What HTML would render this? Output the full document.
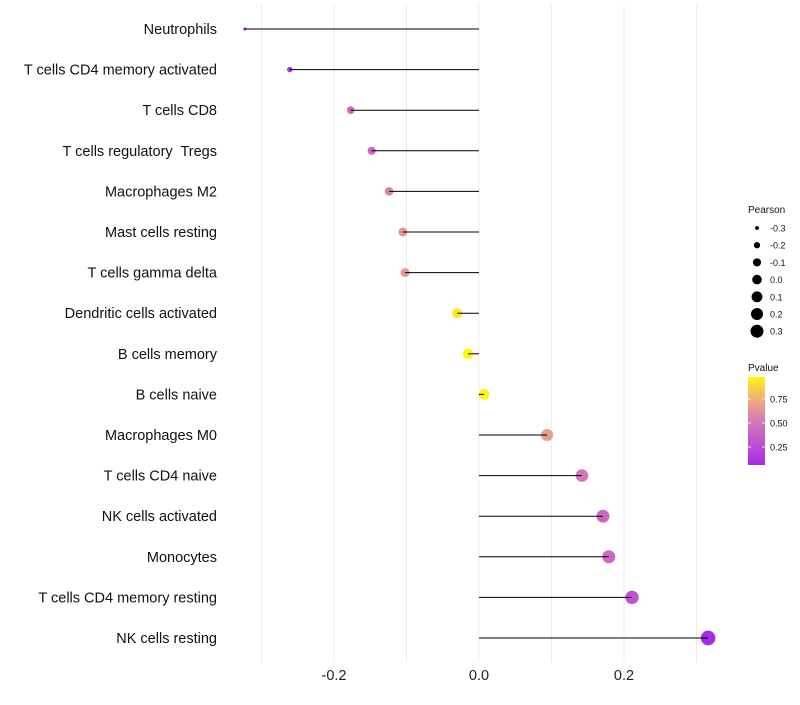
<!DOCTYPE html>
<html><head><meta charset="utf-8"><style>
body{margin:0;background:#fff;font-family:"Liberation Sans",sans-serif}
text{white-space:pre}
</style></head><body>
<svg id="c" width="800" height="700" xmlns="http://www.w3.org/2000/svg" xml:space="preserve"></svg>
<script>
const categories=["Neutrophils","T cells CD4 memory activated","T cells CD8","T cells regulatory  Tregs","Macrophages M2","Mast cells resting","T cells gamma delta","Dendritic cells activated","B cells memory","B cells naive","Macrophages M0","T cells CD4 naive","NK cells activated","Monocytes","T cells CD4 memory resting","NK cells resting"];
const pearson=[-0.323,-0.261,-0.177,-0.148,-0.124,-0.105,-0.102,-0.030,-0.015,0.007,0.094,0.142,0.171,0.179,0.211,0.316];
const pvalue=[0.08,0.12,0.4,0.42,0.55,0.65,0.66,0.93,0.98,0.98,0.68,0.5,0.42,0.42,0.3,0.06];
const xTicks=[-0.2,0.0,0.2];
const xMinor=[-0.3,-0.1,0.1,0.3];
const sizeLegend=[-0.3,-0.2,-0.1,0.0,0.1,0.2,0.3];
const pTicks=[0.25,0.5,0.75];
const NS="http://www.w3.org/2000/svg",svg=document.getElementById('c');
const X=v=>479+v*725, Y=i=>29+i*40.6, R=v=>Math.sqrt(2.5+80*(v+0.323));
const PY=p=>447-(p-0.25)*96;
const stops=[[0,[160,32,240]],[0.5,[212,118,185]],[0.75,[240,172,125]],[1,[255,255,0]]];
function col(p){for(let k=0;k<stops.length-1;k++){const [p0,a]=stops[k],[p1,b]=stops[k+1];
 if(p<=p1||k==stops.length-2){const t=Math.max(0,Math.min(1,(p-p0)/(p1-p0)));
 return `rgb(${a.map((x,j)=>Math.round(x+(b[j]-x)*t)).join(',')})`}}}
function el(n,a,txt){const e=document.createElementNS(NS,n);for(const k in a)e.setAttribute(k,a[k]);if(txt!==undefined)e.textContent=txt;svg.appendChild(e);return e}
xMinor.concat(xTicks).forEach(v=>{const g=el('line',{x1:X(v),x2:X(v),y1:5,y2:662,stroke:'#ececec','stroke-width':1});

});
xTicks.forEach(v=>{const t=el('text',{x:X(v),y:680,'text-anchor':'middle','font-size':14.5,fill:'#222'},v.toFixed(1));

});
categories.forEach((c,i)=>{
 const t=el('text',{x:217,y:Y(i)+5,'text-anchor':'end','font-size':14.5,fill:'#111'},c);
 
 
 const p=el('circle',{cx:X(pearson[i]),cy:Y(i),r:R(pearson[i]),fill:col(pvalue[i])});
 
 
 const l=el('line',{x1:X(0),x2:X(pearson[i]),y1:Y(i),y2:Y(i),stroke:'#000','stroke-width':1});
 
 
});
const lt=el('text',{x:748,y:213,'font-size':10,fill:'#111'},'Pearson');


sizeLegend.forEach((v,k)=>{const y=228+k*17.2;
 const c=el('circle',{cx:757,cy:y,r:R(v)*0.9,fill:'#000'});
 
 
 const t=el('text',{x:770,y:y+3.5,'font-size':9,fill:'#111'},v.toFixed(1));
 
 });
const pt=el('text',{x:748,y:371,'font-size':10,fill:'#111'},'Pvalue');


const defs=el('defs',{});const lg=document.createElementNS(NS,'linearGradient');
lg.setAttribute('id','pg');lg.setAttribute('x1','0');lg.setAttribute('y1','1');lg.setAttribute('x2','0');lg.setAttribute('y2','0');
[0,0.1,0.2,0.3,0.4,0.5,0.6,0.7,0.8,0.9,1].forEach(o=>{const s=document.createElementNS(NS,'stop');s.setAttribute('offset',o);
 const p=0.06+o*(0.98-0.06);s.setAttribute('stop-color',col(p));lg.appendChild(s)});defs.appendChild(lg);
const bar=el('rect',{x:748,y:377,width:17,height:88,fill:'url(#pg)'});


pTicks.forEach(p=>{const y=PY(p);
 el('line',{x1:748,x2:751,y1:y,y2:y,stroke:'#fff','stroke-width':0.8});
 el('line',{x1:762,x2:765,y1:y,y2:y,stroke:'#fff','stroke-width':0.8});
 const t=el('text',{x:770,y:y+3.5,'font-size':9,fill:'#111'},p.toFixed(2));
 
 });
</script>
</body></html>
